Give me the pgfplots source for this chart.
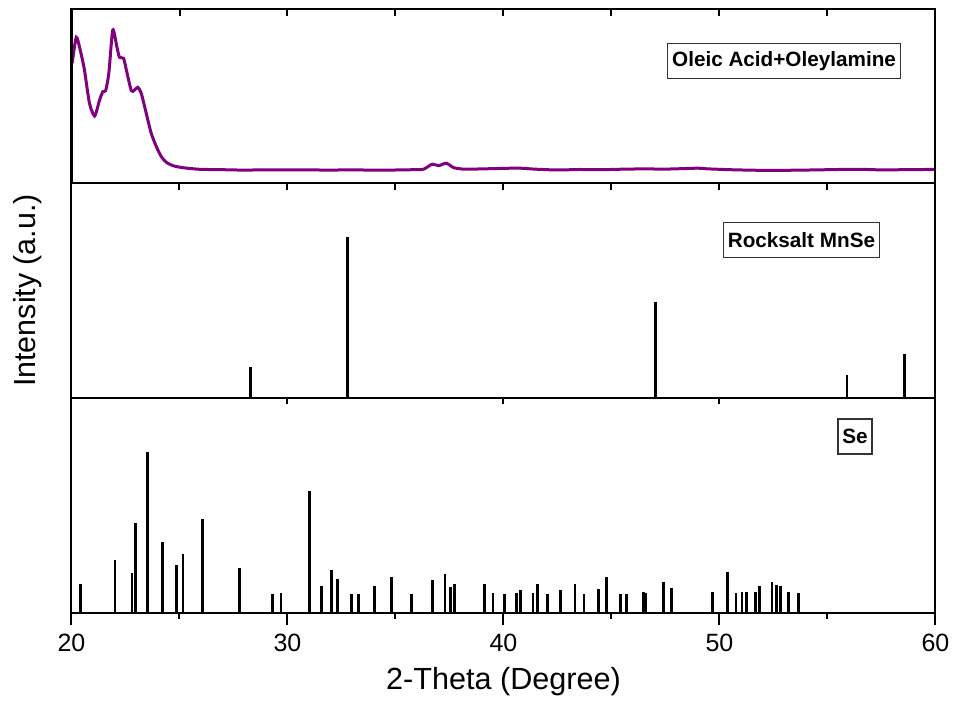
\documentclass[border=0pt]{standalone}
\usepackage{fontspec}
\setmainfont{Liberation Sans}
\usepackage{pgfplots}
\pgfplotsset{compat=1.18}

\definecolor{oleic}{RGB}{128,0,128}

\pgfplotsset{
  xrdpanel/.style={
    scale only axis, width=432pt,
    xmin=20, xmax=60, ymin=0,
    ytick=\empty,
    axis line style={line width=1pt},
    every tick/.style={black, line width=1pt},
    tick align=outside, xtick pos=left,
    xtick={20,30,...,60}, minor x tick num=1,
    major tick length=6pt, minor tick length=3pt,
    tick label style={font=\fontsize{12.5}{15}\selectfont},
    /pgf/number format/assume math mode=true,
  },
}
\tikzset{
  phase/.style={draw=black!80, line width=0.6pt, fill=white,
    font=\fontsize{10.35}{12}\selectfont\bfseries,
    inner xsep=2.2pt, minimum height=17.5pt, anchor=center},
}

\begin{document}
\begin{tikzpicture}
\useasboundingbox (-35.75pt,-50.15pt) rectangle (441.25pt,306.35pt);

% bottom panel: Se reference
\begin{axis}[xrdpanel, name=bot, height=107.2pt, ymax=133.4,
  at={(0,0)}, anchor=south west,
  xticklabel style={inner sep=0pt, anchor=north, yshift=-4.6pt},
  xlabel={2-Theta (Degree)},
  x label style={at={(axis description cs:0.5,-0.3232)}, anchor=center,
    font=\fontsize{15.3}{18}\selectfont},
]
\addplot[ycomb, black, line width=1.4pt, mark=none] table {
x y
20.42 17.6
22.01 32.8
22.80 24.9
22.98 55.6
23.52 100
24.22 43.8
24.85 29.5
25.16 36.5
26.06 58.3
27.79 27.6
29.29 11.4
29.70 12.0
31.01 75.5
31.59 16.8
32.05 26.6
32.31 21.2
32.96 11.4
33.30 11.4
34.03 16.8
34.83 22.2
35.73 11.4
36.73 20.1
37.29 23.9
37.54 15.8
37.72 17.6
39.13 17.6
39.51 12.0
40.05 11.4
40.61 12.0
40.78 13.9
41.37 12.0
41.57 17.6
42.05 11.4
42.65 13.9
43.31 17.6
43.73 11.4
44.38 14.7
44.78 22.2
45.43 11.4
45.69 11.4
46.48 13.1
46.60 12.0
47.41 19.3
47.76 15.6
49.66 12.9
50.36 25.5
50.76 12.0
51.04 12.9
51.24 12.9
51.67 12.9
51.86 16.6
52.43 19.1
52.65 17.4
52.83 16.6
53.20 12.9
53.66 12.0
};
\node[phase] at (rel axis cs:0.9068,0.822) {Se};
\end{axis}

% middle panel: rocksalt MnSe reference
\begin{axis}[xrdpanel, name=mid, height=107.8pt, ymax=133.9,
  at={(bot.north west)}, anchor=south west,
  xtick={30,40,50}, minor x tick num=0, major tick length=3pt,
  xticklabels={},
  ylabel={Intensity (a.u.)},
  y label style={at={(axis description cs:-0.0503,0.5)}, anchor=center,
    font=\fontsize{15.2}{18}\selectfont},
]
\addplot[ycomb, black, line width=1.4pt, mark=none] table {
x y
28.27 19.5
32.76 100
47.05 59.5
55.90 14.3
58.55 27.7
};
\node[phase] at (rel axis cs:0.8449,0.734) {Rocksalt MnSe};
\end{axis}

% top panel: measured pattern
\begin{axis}[xrdpanel, name=top, height=86.7pt, ymax=173.4,
  at={(mid.north west)}, anchor=south west,
  xtick={20,25,...,60}, minor x tick num=0, major tick length=3.5pt,
  xticklabels={},
]
\addplot[oleic, line width=1.5pt, smooth, tension=0.4, mark=none] table {
x y
20.03 119.4
20.22 145.4
20.40 133.0
20.60 112.7
20.83 79.7
21.07 66.7
21.30 82.7
21.45 91.0
21.58 92.0
21.73 109.7
21.91 152.7
22.10 136.0
22.22 125.4
22.41 124.4
22.54 112.7
22.77 92.0
22.92 92.7
23.07 95.4
23.23 89.4
23.46 69.4
23.69 49.4
23.93 36.0
24.16 26.0
24.39 20.4
24.70 17.0
25.16 15.0
25.93 13.4
27.00 13.0
28.00 12.6
29.00 12.9
30.00 12.7
31.00 12.8
32.00 12.6
33.00 12.9
34.00 12.5
35.00 12.7
35.80 13.0
36.30 13.5
36.70 18.5
37.00 17.0
37.35 19.5
37.70 15.0
38.20 13.5
39.00 13.8
40.00 14.3
40.70 14.6
41.50 13.5
42.50 12.7
43.50 13.2
44.50 13.0
45.50 13.5
46.50 13.8
47.50 13.6
48.50 14.2
49.00 14.5
49.50 13.8
50.50 13.0
51.50 12.5
52.50 12.3
53.50 12.5
54.50 12.8
55.50 13.2
56.50 13.4
57.50 12.8
58.50 13.0
59.50 13.2
60.00 13.3
};
\node[phase] at (rel axis cs:0.8247,0.702) {Oleic Acid+Oleylamine};
\end{axis}

% inward ticks along the top edge
\begin{axis}[scale only axis, width=432pt, height=86.7pt,
  at={(top.south west)}, anchor=south west,
  xmin=20, xmax=60, ymin=0, ymax=1, ytick=\empty,
  xtick={25,30,...,55}, xtick pos=right, tick align=inside,
  major tick length=3.5pt, xticklabels={},
  axis line style={line width=1pt},
  every tick/.style={black, line width=1pt},
]
\end{axis}
\end{tikzpicture}
\end{document}
